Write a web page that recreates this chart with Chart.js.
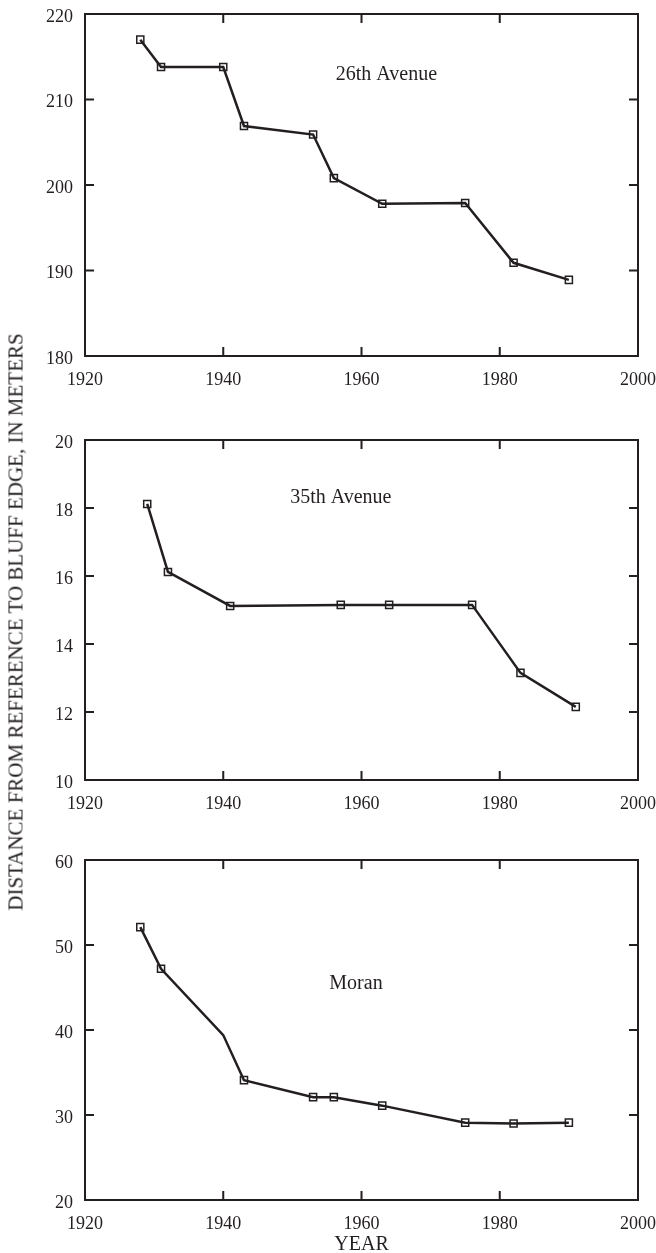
<!DOCTYPE html>
<html lang="en">
<head>
<meta charset="UTF-8">
<title>Bluff edge retreat</title>
<script src="https://cdn.jsdelivr.net/npm/chart.js@4"></script>
<style>
    body {
        margin: 0;
        background: #fff;
        width: 656px;
        height: 1253px;
        position: relative;
        overflow: hidden;
        font-family: "Liberation Serif", "Times New Roman", serif;
        color: #231f20;
    }
    canvas {
        position: absolute;
        left: 0;
    }
    #ytitle {
        position: absolute;
        left: 16px;
        top: 622px;
        transform: translate(-50%, -50%) rotate(-90deg);
        white-space: nowrap;
        font-size: 21px;
    }
</style>
</head>
<body>
<canvas id="c26" width="656" height="395" style="top:0px"></canvas>
<canvas id="c35" width="656" height="415" style="top:400px"></canvas>
<canvas id="cMoran" width="656" height="437" style="top:820px"></canvas>
<div id="ytitle">DISTANCE FROM REFERENCE TO BLUFF EDGE, IN METERS</div>

<script>
// survey years and measured distances for each transect
const years26 = [1928, 1931, 1940, 1943, 1953, 1956, 1963, 1975, 1982, 1990];
const dist26 = [217, 213.8, 213.8, 206.9, 205.9, 200.8, 197.8, 197.9, 190.9, 188.9];

const years35 = [1929, 1932, 1941, 1957, 1964, 1976, 1983, 1991];
const dist35 = [18.12, 16.12, 15.12, 15.15, 15.15, 15.15, 13.15, 12.15];

const yearsMoran = [1928, 1931, 1940, 1943, 1953, 1956, 1963, 1975, 1982, 1990];
const distMoran = [52.1, 47.2, 39.4, 34.1, 32.1, 32.1, 31.1, 29.1, 29.0, 29.1];
// 1940 Moran value is a bend in the line with no survey marker
const markedMoran = [true, true, false, true, true, true, true, true, true, true];

const yearTicks = [1920, 1940, 1960, 1980, 2000];
const ticks26 = [180, 190, 200, 210, 220];
const ticks35 = [10, 12, 14, 16, 18, 20];
const ticksMoran = [20, 30, 40, 50, 60];

const ink = '#231f20';
const serif = '"Liberation Serif", "Times New Roman", serif';
const tickFont = { family: serif, size: 18 };
const titleFont = { family: serif, size: 20 };

// box around the plot area with short inward ticks on all four sides
const frameTicks = {
    id: 'frameTicks',
    afterDraw(chart) {
        const { ctx, chartArea: a, scales } = chart;
        const len = 9;
        ctx.save();
        ctx.strokeStyle = ink;
        ctx.lineWidth = 2;
        ctx.strokeRect(a.left, a.top, a.right - a.left, a.bottom - a.top);
        ctx.beginPath();
        scales.x.ticks.forEach(t => {
            if (t.value <= scales.x.min || t.value >= scales.x.max) return;
            const px = scales.x.getPixelForValue(t.value);
            ctx.moveTo(px, a.top); ctx.lineTo(px, a.top + len);
            ctx.moveTo(px, a.bottom); ctx.lineTo(px, a.bottom - len);
        });
        scales.y.ticks.forEach(t => {
            if (t.value <= scales.y.min || t.value >= scales.y.max) return;
            const py = scales.y.getPixelForValue(t.value);
            ctx.moveTo(a.left, py); ctx.lineTo(a.left + len, py);
            ctx.moveTo(a.right, py); ctx.lineTo(a.right - len, py);
        });
        ctx.stroke();
        ctx.restore();
    }
};

// transect name written inside the plot
const panelLabel = {
    id: 'panelLabel',
    afterDraw(chart, args, opts) {
        if (!opts.text) return;
        const { ctx, scales } = chart;
        ctx.save();
        ctx.fillStyle = ink;
        ctx.font = `${titleFont.size}px ${titleFont.family}`;
        ctx.textAlign = 'center';
        ctx.textBaseline = 'middle';
        ctx.fillText(opts.text, scales.x.getPixelForValue(opts.x), scales.y.getPixelForValue(opts.y));
        ctx.restore();
    }
};

function makePanel(id, years, dist, yTicks, label, xHeight, padTop, marked, showYear) {
    const pts = years.map((yr, i) => ({ x: yr, y: dist[i] }));
    const radii = years.map((_, i) => (marked && !marked[i]) ? 0 : 5);
    return new Chart(document.getElementById(id), {
        type: 'line',
        data: {
            datasets: [{
                data: pts,
                borderColor: ink,
                borderWidth: 2.5,
                tension: 0,
                pointStyle: 'rect',
                pointRadius: radii,
                pointBorderWidth: 1.5,
                pointBorderColor: ink,
                pointBackgroundColor: 'rgba(255,255,255,0)'
            }]
        },
        options: {
            responsive: false,
            animation: false,
            layout: { padding: { top: padTop, right: 18, left: 0, bottom: 0 } },
            plugins: {
                legend: { display: false },
                tooltip: { enabled: false },
                panelLabel: label
            },
            scales: {
                x: {
                    type: 'linear',
                    min: yearTicks[0],
                    max: yearTicks[yearTicks.length - 1],
                    afterBuildTicks: s => { s.ticks = yearTicks.map(v => ({ value: v })); },
                    grid: { display: false, drawTicks: false },
                    border: { display: false },
                    ticks: { color: ink, font: tickFont, padding: 13, maxRotation: 0, callback: v => String(v) },
                    title: {
                        display: showYear,
                        text: 'YEAR',
                        color: ink,
                        font: titleFont,
                        padding: { top: 0, bottom: 0 }
                    },
                    afterFit: s => {
                        s.height = xHeight;
                        s.paddingLeft = 0;
                        s.paddingRight = 0;
                    }
                },
                y: {
                    type: 'linear',
                    min: yTicks[0],
                    max: yTicks[yTicks.length - 1],
                    afterBuildTicks: s => { s.ticks = yTicks.map(v => ({ value: v })); },
                    grid: { display: false, drawTicks: false },
                    border: { display: false },
                    ticks: { color: ink, font: tickFont, padding: 12, labelOffset: 3 },
                    afterFit: s => {
                        s.width = 85;
                        s.paddingTop = 0;
                        s.paddingBottom = 0;
                    }
                }
            }
        },
        plugins: [frameTicks, panelLabel]
    });
}

makePanel('c26', years26, dist26, ticks26, { text: '26th Avenue', x: 1963.6, y: 212.9 }, 39, 14, null, false);
makePanel('c35', years35, dist35, ticks35, { text: '35th Avenue', x: 1957, y: 18.3 }, 35, 40, null, false);
makePanel('cMoran', yearsMoran, distMoran, ticksMoran, { text: 'Moran', x: 1959.2, y: 45.5 }, 57, 40, markedMoran, true);
</script>
</body>
</html>
